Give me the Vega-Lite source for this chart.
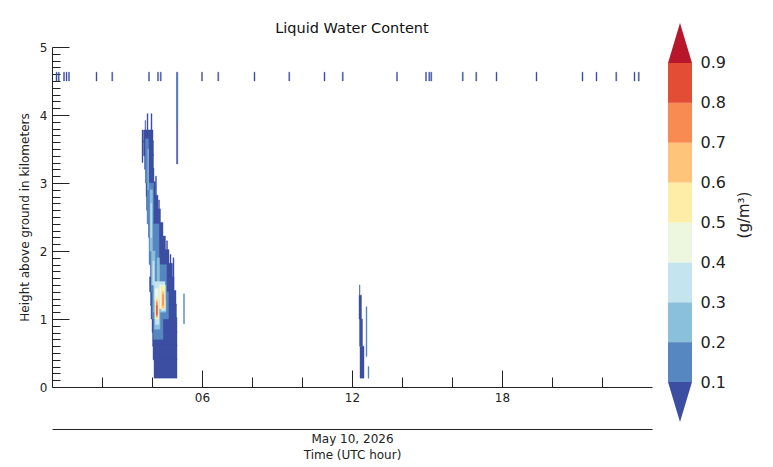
{
  "$schema": "https://vega.github.io/schema/vega-lite/v6.json",
  "padding": {"left": 18, "top": 20, "right": 10, "bottom": 2},
  "config": {
    "view": {"stroke": null},
    "font": "DejaVu Sans",
    "axis": {"domainColor": "#222222", "tickColor": "#222222", "labelColor": "#222222", "titleColor": "#222222", "labelFont": "DejaVu Sans", "titleFont": "DejaVu Sans", "labelFontSize": 12, "titleFontSize": 12, "titleFontWeight": "normal", "grid": false},
    "title": {"font": "DejaVu Sans", "fontWeight": "normal", "fontSize": 14.5, "color": "#111111"}
  },
  "datasets": {
    "ticks": [
      {"t0": 0.16, "t1": 0.2, "h0": 4.5, "h1": 4.63, "v": 0.05},
      {"t0": 0.25, "t1": 0.29, "h0": 4.5, "h1": 4.63, "v": 0.05},
      {"t0": 0.46, "t1": 0.5, "h0": 4.5, "h1": 4.63, "v": 0.05},
      {"t0": 0.56, "t1": 0.6, "h0": 4.5, "h1": 4.63, "v": 0.05},
      {"t0": 0.66, "t1": 0.7, "h0": 4.5, "h1": 4.63, "v": 0.05},
      {"t0": 1.76, "t1": 1.8, "h0": 4.5, "h1": 4.63, "v": 0.05},
      {"t0": 2.39, "t1": 2.43, "h0": 4.5, "h1": 4.63, "v": 0.05},
      {"t0": 3.86, "t1": 3.9, "h0": 4.5, "h1": 4.63, "v": 0.05},
      {"t0": 4.22, "t1": 4.26, "h0": 4.5, "h1": 4.63, "v": 0.05},
      {"t0": 4.33, "t1": 4.37, "h0": 4.5, "h1": 4.63, "v": 0.05},
      {"t0": 5.98, "t1": 6.02, "h0": 4.5, "h1": 4.63, "v": 0.05},
      {"t0": 6.63, "t1": 6.67, "h0": 4.5, "h1": 4.63, "v": 0.05},
      {"t0": 8.08, "t1": 8.12, "h0": 4.5, "h1": 4.63, "v": 0.05},
      {"t0": 9.47, "t1": 9.51, "h0": 4.5, "h1": 4.63, "v": 0.05},
      {"t0": 10.88, "t1": 10.92, "h0": 4.5, "h1": 4.63, "v": 0.05},
      {"t0": 11.61, "t1": 11.65, "h0": 4.5, "h1": 4.63, "v": 0.05},
      {"t0": 13.78, "t1": 13.82, "h0": 4.5, "h1": 4.63, "v": 0.05},
      {"t0": 14.94, "t1": 14.98, "h0": 4.5, "h1": 4.63, "v": 0.05},
      {"t0": 15.07, "t1": 15.11, "h0": 4.5, "h1": 4.63, "v": 0.05},
      {"t0": 15.15, "t1": 15.19, "h0": 4.5, "h1": 4.63, "v": 0.05},
      {"t0": 16.41, "t1": 16.45, "h0": 4.5, "h1": 4.63, "v": 0.05},
      {"t0": 16.95, "t1": 16.99, "h0": 4.5, "h1": 4.63, "v": 0.05},
      {"t0": 17.76, "t1": 17.8, "h0": 4.5, "h1": 4.63, "v": 0.05},
      {"t0": 19.36, "t1": 19.4, "h0": 4.5, "h1": 4.63, "v": 0.05},
      {"t0": 21.2, "t1": 21.24, "h0": 4.5, "h1": 4.63, "v": 0.05},
      {"t0": 21.76, "t1": 21.8, "h0": 4.5, "h1": 4.63, "v": 0.05},
      {"t0": 22.55, "t1": 22.59, "h0": 4.5, "h1": 4.63, "v": 0.05},
      {"t0": 23.28, "t1": 23.32, "h0": 4.5, "h1": 4.63, "v": 0.05},
      {"t0": 23.45, "t1": 23.49, "h0": 4.5, "h1": 4.63, "v": 0.05}
    ],
    "cells": [
      {"t0": 3.66, "t1": 4.04, "h0": 3.6, "h1": 3.78, "v": 0.05},
      {"t0": 3.66, "t1": 4.06, "h0": 3.4, "h1": 3.62, "v": 0.05},
      {"t0": 3.7, "t1": 4.06, "h0": 3.2, "h1": 3.42, "v": 0.05},
      {"t0": 3.74, "t1": 4.08, "h0": 3.0, "h1": 3.22, "v": 0.05},
      {"t0": 3.76, "t1": 4.14, "h0": 2.8, "h1": 3.02, "v": 0.05},
      {"t0": 3.78, "t1": 4.24, "h0": 2.6, "h1": 2.82, "v": 0.05},
      {"t0": 3.82, "t1": 4.34, "h0": 2.4, "h1": 2.62, "v": 0.05},
      {"t0": 3.86, "t1": 4.44, "h0": 2.2, "h1": 2.42, "v": 0.05},
      {"t0": 3.9, "t1": 4.54, "h0": 2.0, "h1": 2.22, "v": 0.05},
      {"t0": 3.94, "t1": 4.68, "h0": 1.8, "h1": 2.02, "v": 0.05},
      {"t0": 3.94, "t1": 4.82, "h0": 1.6, "h1": 1.82, "v": 0.05},
      {"t0": 3.9, "t1": 4.88, "h0": 1.4, "h1": 1.62, "v": 0.05},
      {"t0": 3.94, "t1": 4.96, "h0": 1.2, "h1": 1.42, "v": 0.05},
      {"t0": 3.96, "t1": 4.98, "h0": 1.0, "h1": 1.22, "v": 0.05},
      {"t0": 4.0, "t1": 5.0, "h0": 0.8, "h1": 1.02, "v": 0.05},
      {"t0": 4.02, "t1": 5.0, "h0": 0.6, "h1": 0.82, "v": 0.05},
      {"t0": 4.04, "t1": 5.0, "h0": 0.4, "h1": 0.62, "v": 0.05},
      {"t0": 4.08, "t1": 5.0, "h0": 0.13, "h1": 0.42, "v": 0.05},
      {"t0": 3.6, "t1": 3.64, "h0": 3.3, "h1": 3.78, "v": 0.05},
      {"t0": 3.72, "t1": 3.74, "h0": 3.6, "h1": 3.92, "v": 0.05},
      {"t0": 3.8, "t1": 3.84, "h0": 3.7, "h1": 4.02, "v": 0.05},
      {"t0": 3.96, "t1": 4.0, "h0": 3.6, "h1": 4.02, "v": 0.05},
      {"t0": 4.14, "t1": 4.18, "h0": 2.7, "h1": 3.1, "v": 0.05},
      {"t0": 4.26, "t1": 4.3, "h0": 2.4, "h1": 2.75, "v": 0.05},
      {"t0": 4.58, "t1": 4.62, "h0": 1.9, "h1": 2.15, "v": 0.05},
      {"t0": 4.72, "t1": 4.76, "h0": 1.7, "h1": 1.95, "v": 0.05},
      {"t0": 4.84, "t1": 4.88, "h0": 1.4, "h1": 1.9, "v": 0.05},
      {"t0": 3.74, "t1": 3.86, "h0": 3.0, "h1": 3.65, "v": 0.15},
      {"t0": 3.8, "t1": 4.06, "h0": 2.4, "h1": 3.0, "v": 0.15},
      {"t0": 3.88, "t1": 4.28, "h0": 1.8, "h1": 2.4, "v": 0.15},
      {"t0": 3.96, "t1": 4.58, "h0": 1.4, "h1": 1.8, "v": 0.15},
      {"t0": 4.0, "t1": 4.66, "h0": 1.0, "h1": 1.4, "v": 0.15},
      {"t0": 4.06, "t1": 4.44, "h0": 0.7, "h1": 1.0, "v": 0.15},
      {"t0": 3.83, "t1": 3.86, "h0": 2.9, "h1": 3.5, "v": 0.25},
      {"t0": 3.92, "t1": 4.02, "h0": 2.0, "h1": 2.9, "v": 0.25},
      {"t0": 3.98, "t1": 4.12, "h0": 1.5, "h1": 2.0, "v": 0.25},
      {"t0": 4.2, "t1": 4.3, "h0": 1.5, "h1": 1.9, "v": 0.25},
      {"t0": 4.06, "t1": 4.56, "h0": 1.1, "h1": 1.5, "v": 0.25},
      {"t0": 4.1, "t1": 4.32, "h0": 0.85, "h1": 1.1, "v": 0.25},
      {"t0": 3.95, "t1": 3.99, "h0": 2.2, "h1": 2.7, "v": 0.35},
      {"t0": 4.03, "t1": 4.09, "h0": 1.5, "h1": 1.85, "v": 0.35},
      {"t0": 4.1, "t1": 4.52, "h0": 1.28, "h1": 1.55, "v": 0.35},
      {"t0": 4.13, "t1": 4.28, "h0": 0.92, "h1": 1.28, "v": 0.35},
      {"t0": 4.38, "t1": 4.54, "h0": 1.12, "h1": 1.28, "v": 0.35},
      {"t0": 4.12, "t1": 4.26, "h0": 1.0, "h1": 1.45, "v": 0.45},
      {"t0": 4.3, "t1": 4.52, "h0": 1.15, "h1": 1.5, "v": 0.45},
      {"t0": 4.15, "t1": 4.24, "h0": 1.0, "h1": 1.32, "v": 0.55},
      {"t0": 4.36, "t1": 4.5, "h0": 1.15, "h1": 1.48, "v": 0.55},
      {"t0": 4.16, "t1": 4.23, "h0": 1.02, "h1": 1.28, "v": 0.65},
      {"t0": 4.4, "t1": 4.48, "h0": 1.16, "h1": 1.4, "v": 0.65},
      {"t0": 4.17, "t1": 4.22, "h0": 1.04, "h1": 1.25, "v": 0.75},
      {"t0": 4.42, "t1": 4.47, "h0": 1.2, "h1": 1.36, "v": 0.75},
      {"t0": 4.18, "t1": 4.21, "h0": 1.06, "h1": 1.2, "v": 0.85}
    ],
    "other": [
      {"t0": 4.98, "t1": 5.03, "h0": 3.28, "h1": 4.63, "v": 0.05},
      {"t0": 4.98, "t1": 5.03, "h0": 3.9, "h1": 4.6, "v": 0.15},
      {"t0": 5.26, "t1": 5.3, "h0": 0.93, "h1": 1.37, "v": 0.15},
      {"t0": 12.3, "t1": 12.32, "h0": 1.35, "h1": 1.5, "v": 0.05},
      {"t0": 12.28, "t1": 12.38, "h0": 1.0, "h1": 1.35, "v": 0.05},
      {"t0": 12.3, "t1": 12.42, "h0": 0.6, "h1": 1.0, "v": 0.05},
      {"t0": 12.32, "t1": 12.48, "h0": 0.13, "h1": 0.6, "v": 0.05},
      {"t0": 12.56, "t1": 12.6, "h0": 0.45, "h1": 1.18, "v": 0.15},
      {"t0": 12.64, "t1": 12.68, "h0": 0.13, "h1": 0.3, "v": 0.15}
    ],
    "bins": [
      {"lo": 0.1, "hi": 0.2, "v": 0.15},
      {"lo": 0.2, "hi": 0.3, "v": 0.25},
      {"lo": 0.3, "hi": 0.4, "v": 0.35},
      {"lo": 0.4, "hi": 0.5, "v": 0.45},
      {"lo": 0.5, "hi": 0.6, "v": 0.55},
      {"lo": 0.6, "hi": 0.7, "v": 0.65},
      {"lo": 0.7, "hi": 0.8, "v": 0.75},
      {"lo": 0.8, "hi": 0.9, "v": 0.85}
    ],
    "tri": [
      {"g": "over", "x": 0, "y": 0.9, "y2": 0.9, "v": 0.95},
      {"g": "over", "x": 0.5, "y": 1.0, "y2": 0.9, "v": 0.95},
      {"g": "over", "x": 1, "y": 0.9, "y2": 0.9, "v": 0.95},
      {"g": "under", "x": 0, "y": 0.1, "y2": 0.1, "v": 0.05},
      {"g": "under", "x": 0.5, "y": 0.0, "y2": 0.1, "v": 0.05},
      {"g": "under", "x": 1, "y": 0.1, "y2": 0.1, "v": 0.05}
    ]
  },
  "spacing": 16,
  "resolve": {"scale": {"color": "shared", "stroke": "shared"}},
  "hconcat": [
    {
      "width": 600,
      "height": 340,
      "title": {"text": "Liquid Water Content", "offset": 5, "anchor": "middle"},
      "layer": [
        {
          "data": {"name": "ticks"},
          "mark": {"type": "rect", "strokeWidth": 0.4},
          "encoding": {
            "x": {"field": "t0", "type": "quantitative", "scale": {"domain": [0, 24], "nice": false, "zero": false},
                  "axis": {"orient": "bottom", "values": [2, 4, 6, 8, 10, 12, 14, 16, 18, 20, 22], "tickSize": -10, "labels": false, "domain": false, "title": null}},
            "x2": {"field": "t1"},
            "y": {"field": "h0", "type": "quantitative", "scale": {"domain": [0, 5], "nice": false, "zero": false},
                  "axis": {"orient": "left", "values": [0.1,0.2,0.3,0.4,0.5,0.6,0.7,0.8,0.9,1.1,1.2,1.3,1.4,1.5,1.6,1.7,1.8,1.9,2.1,2.2,2.3,2.4,2.5,2.6,2.7,2.8,2.9,3.1,3.2,3.3,3.4,3.5,3.6,3.7,3.8,3.9,4.1,4.2,4.3,4.4,4.5,4.6,4.7,4.8,4.9], "tickSize": -8, "labels": false, "domain": false, "title": null}},
            "y2": {"field": "h1"},
            "color": {"field": "v", "type": "quantitative", "scale": {"type": "threshold", "domain": [0.1, 0.2, 0.3, 0.4, 0.5, 0.6, 0.7, 0.8, 0.9], "range": ["#3b4ea2", "#5687c1", "#8bc0dc", "#c4e4ef", "#edf7df", "#fdeda6", "#fdc47a", "#f88b52", "#e34c35", "#b8172b"]}, "legend": null},
            "stroke": {"field": "v", "type": "quantitative", "scale": {"type": "threshold", "domain": [0.1, 0.2, 0.3, 0.4, 0.5, 0.6, 0.7, 0.8, 0.9], "range": ["#3b4ea2", "#5687c1", "#8bc0dc", "#c4e4ef", "#edf7df", "#fdeda6", "#fdc47a", "#f88b52", "#e34c35", "#b8172b"]}, "legend": null}
          }
        },
        {
          "data": {"name": "cells"},
          "mark": {"type": "rect", "strokeWidth": 0.4},
          "encoding": {
            "x": {"field": "t0", "type": "quantitative",
                  "axis": {"orient": "bottom", "values": [6, 12, 18], "labelExpr": "datum.value < 10 ? '0' + datum.value : '' + datum.value", "tickSize": -17, "labelPadding": 22, "title": null}},
            "x2": {"field": "t1"},
            "y": {"field": "h0", "type": "quantitative",
                  "axis": {"orient": "left", "values": [0, 1, 2, 3, 4, 5], "format": "d", "tickSize": -17, "labelPadding": 22, "title": "Height above ground in kilometers", "titlePadding": 8}},
            "y2": {"field": "h1"},
            "color": {"field": "v", "type": "quantitative", "scale": {"type": "threshold", "domain": [0.1, 0.2, 0.3, 0.4, 0.5, 0.6, 0.7, 0.8, 0.9], "range": ["#3b4ea2", "#5687c1", "#8bc0dc", "#c4e4ef", "#edf7df", "#fdeda6", "#fdc47a", "#f88b52", "#e34c35", "#b8172b"]}, "legend": null},
            "stroke": {"field": "v", "type": "quantitative", "scale": {"type": "threshold", "domain": [0.1, 0.2, 0.3, 0.4, 0.5, 0.6, 0.7, 0.8, 0.9], "range": ["#3b4ea2", "#5687c1", "#8bc0dc", "#c4e4ef", "#edf7df", "#fdeda6", "#fdc47a", "#f88b52", "#e34c35", "#b8172b"]}, "legend": null}
          }
        },
        {
          "data": {"name": "other"},
          "mark": {"type": "rect", "strokeWidth": 0.4},
          "encoding": {
            "x": {"field": "t0", "type": "quantitative",
                  "axis": {"orient": "bottom", "offset": 42, "values": [], "ticks": false, "labels": false, "domain": true, "title": ["May 10, 2026", "Time (UTC hour)"], "titlePadding": 4, "titleLineHeight": 16}},
            "x2": {"field": "t1"},
            "y": {"field": "h0", "type": "quantitative", "axis": null},
            "y2": {"field": "h1"},
            "color": {"field": "v", "type": "quantitative", "scale": {"type": "threshold", "domain": [0.1, 0.2, 0.3, 0.4, 0.5, 0.6, 0.7, 0.8, 0.9], "range": ["#3b4ea2", "#5687c1", "#8bc0dc", "#c4e4ef", "#edf7df", "#fdeda6", "#fdc47a", "#f88b52", "#e34c35", "#b8172b"]}, "legend": null},
            "stroke": {"field": "v", "type": "quantitative", "scale": {"type": "threshold", "domain": [0.1, 0.2, 0.3, 0.4, 0.5, 0.6, 0.7, 0.8, 0.9], "range": ["#3b4ea2", "#5687c1", "#8bc0dc", "#c4e4ef", "#edf7df", "#fdeda6", "#fdc47a", "#f88b52", "#e34c35", "#b8172b"]}, "legend": null}
          }
        }
      ],
      "resolve": {"axis": {"x": "independent", "y": "independent"}}
    },
    {
      "width": 24,
      "height": 335,
      "layer": [
        {
          "data": {"name": "bins"},
          "mark": {"type": "rect"},
          "encoding": {
            "x": {"datum": 0, "type": "quantitative", "scale": {"domain": [0, 1], "nice": false, "zero": false}, "axis": null},
            "x2": {"datum": 1},
            "y": {"field": "lo", "type": "quantitative", "scale": {"domain": [0.1, 0.94], "nice": false, "zero": false},
                  "axis": {"orient": "right", "values": [0.1, 0.2, 0.3, 0.4, 0.5, 0.6, 0.7, 0.8, 0.9], "format": ".1f", "ticks": false, "domain": false, "labelOverlap": false, "labelPadding": 8, "labelFontSize": 16, "title": "(g/m³)", "titleAngle": 270, "titleFontSize": 15, "titlePadding": 26}},
            "y2": {"field": "hi"},
            "color": {"field": "v", "type": "quantitative", "scale": {"type": "threshold", "domain": [0.1, 0.2, 0.3, 0.4, 0.5, 0.6, 0.7, 0.8, 0.9], "range": ["#3b4ea2", "#5687c1", "#8bc0dc", "#c4e4ef", "#edf7df", "#fdeda6", "#fdc47a", "#f88b52", "#e34c35", "#b8172b"]}, "legend": null}
          }
        },
        {
          "data": {"name": "tri"},
          "mark": {"type": "area"},
          "encoding": {
            "x": {"field": "x", "type": "quantitative"},
            "y": {"field": "y", "type": "quantitative"},
            "y2": {"field": "y2"},
            "detail": {"field": "g"},
            "color": {"field": "v", "type": "quantitative", "scale": {"type": "threshold", "domain": [0.1, 0.2, 0.3, 0.4, 0.5, 0.6, 0.7, 0.8, 0.9], "range": ["#3b4ea2", "#5687c1", "#8bc0dc", "#c4e4ef", "#edf7df", "#fdeda6", "#fdc47a", "#f88b52", "#e34c35", "#b8172b"]}, "legend": null}
          }
        },
        {
          "mark": {"type": "rule", "color": "#000000", "strokeWidth": 1},
          "encoding": {
            "x": {"datum": 1, "type": "quantitative"},
            "y": {"datum": 0.1, "type": "quantitative"},
            "y2": {"datum": 0.9}
          }
        }
      ]
    }
  ]
}
